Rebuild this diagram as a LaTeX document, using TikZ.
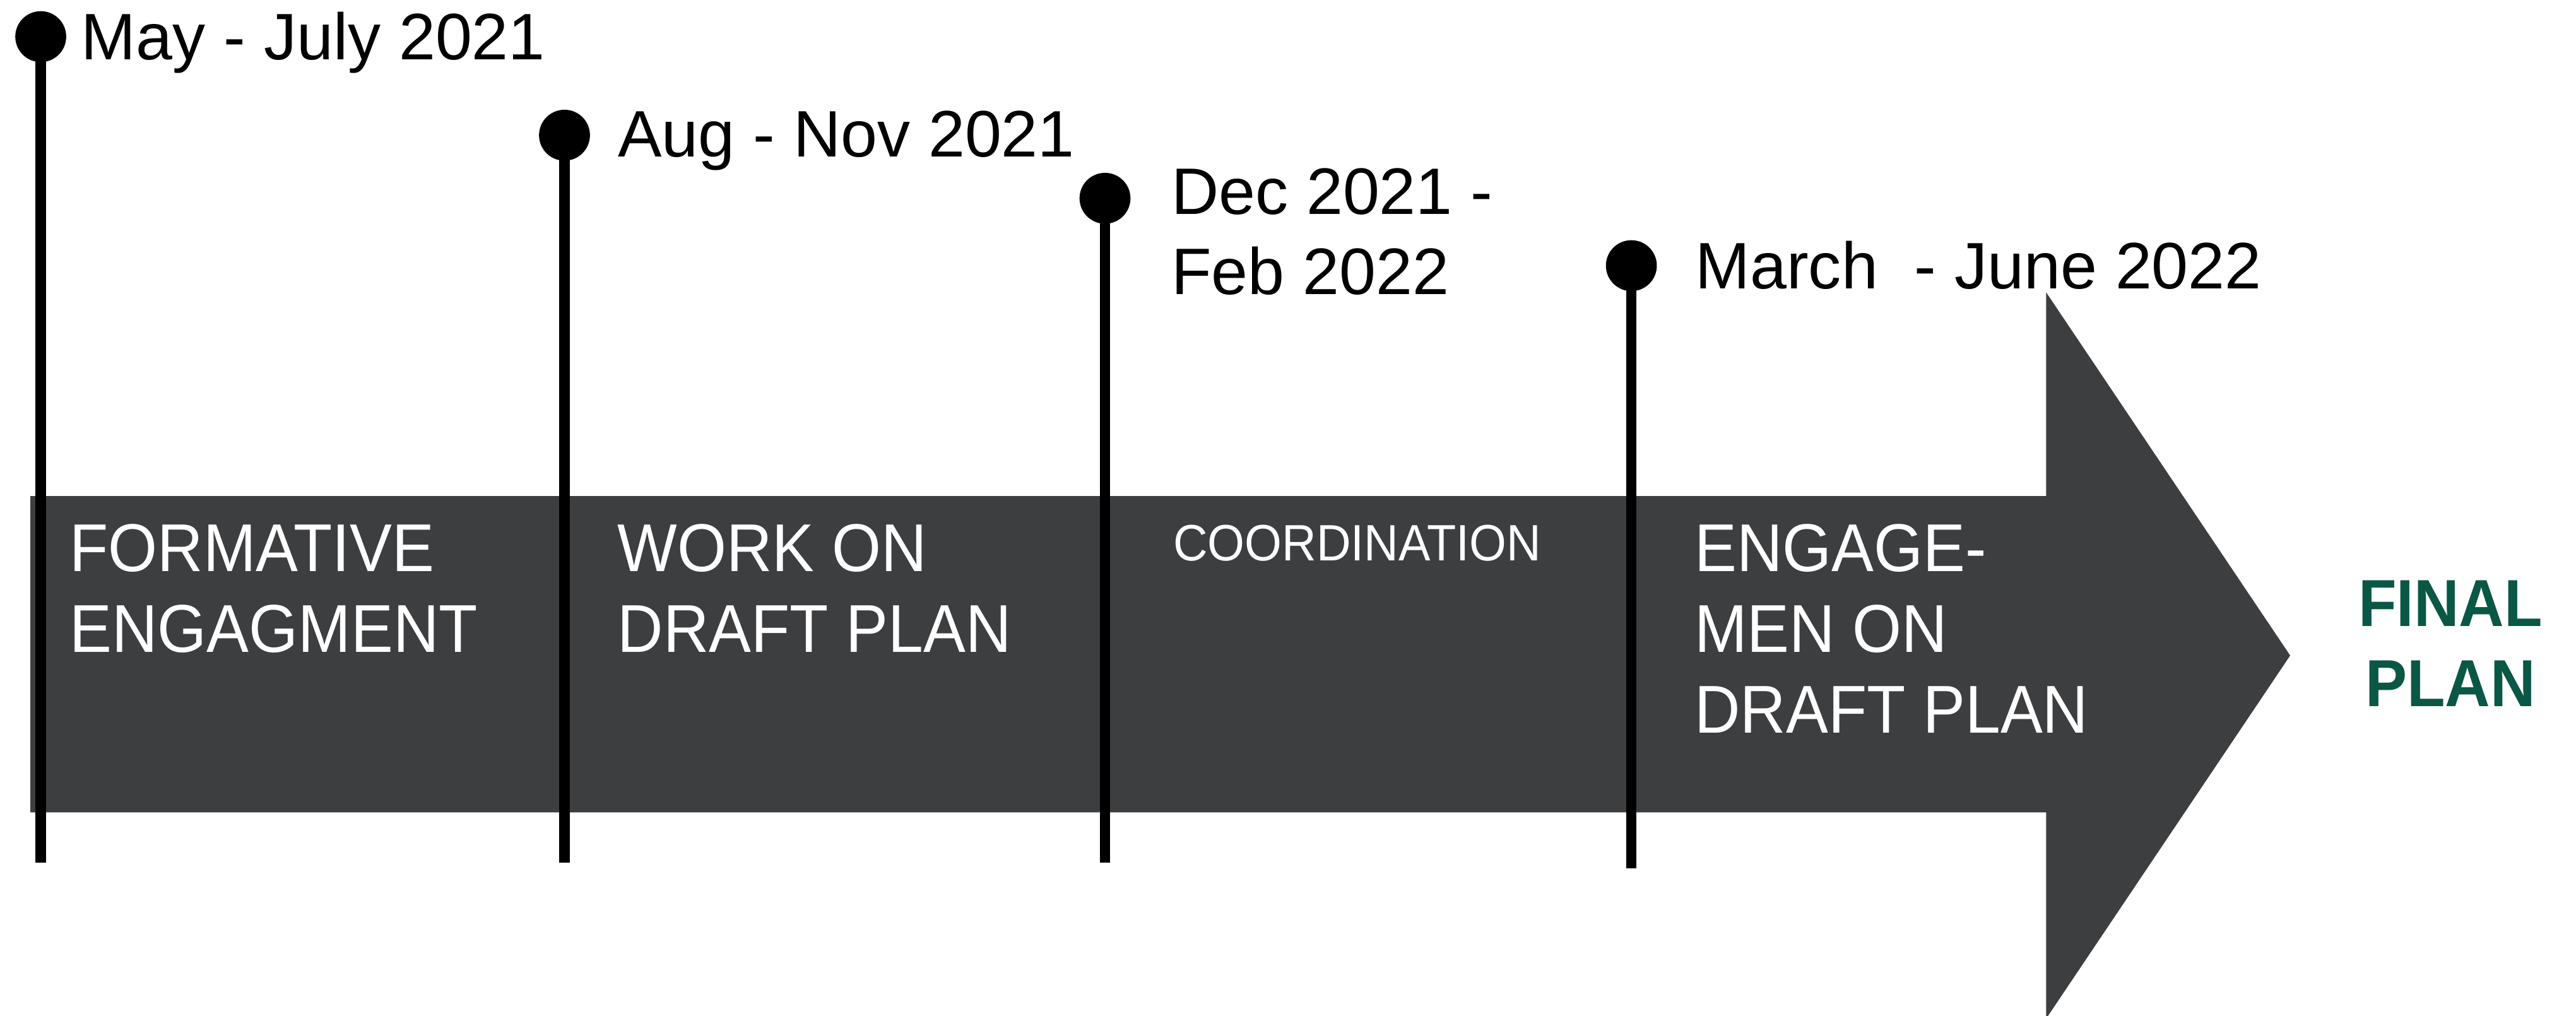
\documentclass[tikz,border=0pt]{standalone}
\usepackage{fontspec}
\setmainfont{Liberation Sans}
\newfontfamily\datefont{Liberation Sans}
\newfontfamily\phasefont[FakeStretch=0.935]{Liberation Sans}
\newfontfamily\finalfont[FakeStretch=0.94]{Liberation Sans}
\definecolor{arrowgray}{HTML}{3D3E40}
\definecolor{plangreen}{HTML}{0A5745}
\begin{document}
\begin{tikzpicture}[x=1pt,y=-1pt,
  dot/.style={circle,fill=black,inner sep=0pt,minimum size=31pt},
  pinline/.style={line width=6.3pt,black},
  datelabel/.style={anchor=north west,inner sep=0pt,align=left,font=\datefont\fontsize{40}{48.6}\selectfont},
  phaselabel/.style={anchor=north west,inner sep=0pt,align=left,text=white,font=\phasefont\fontsize{41.2}{49}\selectfont},
  smallphase/.style={anchor=north west,inner sep=0pt,text=white,font=\phasefont\fontsize{31.1}{36}\selectfont},
  finallabel/.style={anchor=north,inner sep=0pt,align=center,text=plangreen,font=\finalfont\bfseries\fontsize{40.5}{49}\selectfont}]
\useasboundingbox (0,0) rectangle (1568,618.06);
% big arrow
\fill[arrowgray] (18.5,302) -- (1245.5,302) -- (1245.5,178) -- (1394,399)
  -- (1245.5,620) -- (1245.5,494.5) -- (18.5,494.5) -- cycle;
% pins
\node[dot] (p1) at (24.8,22.3) {};
\node[dot] (p2) at (343.6,82.3) {};
\node[dot] (p3) at (672.6,120.7) {};
\node[dot] (p4) at (993,161.7) {};
\coordinate (e1) at (24.8,525);
\coordinate (e2) at (343.6,525);
\coordinate (e3) at (672.6,525);
\coordinate (e4) at (993,528.5);
\draw[pinline] (p1.center) -- (e1);
\draw[pinline] (p2.center) -- (e2);
\draw[pinline] (p3.center) -- (e3);
\draw[pinline] (p4.center) -- (e4);
% dates
\node[datelabel] (d1) at (49.3,7.1) {May - July 2021};
\node[datelabel] (d2) at (376,67.3) {Aug - Nov 2021};
\node[datelabel] (d3) at (712.8,102.3) {Dec 2021 -\\Feb 2022};
\node[datelabel] (d4) at (1031.8,146.5) {March\ \ - June 2022};
% phases
\node[phaselabel] (f1) at (42.2,319) {FORMATIVE\\ENGAGMENT};
\node[phaselabel] (f2) at (375.7,319) {WORK ON\\DRAFT PLAN};
\node[smallphase] (f3) at (713.9,319.2) {COORDINATION};
\node[phaselabel] (f4) at (1031.3,319) {ENGAGE-\\MEN ON\\DRAFT PLAN};
% final
\node[finallabel] (fin) at (1491.5,353) {FINAL\\PLAN};
\end{tikzpicture}
\end{document}
